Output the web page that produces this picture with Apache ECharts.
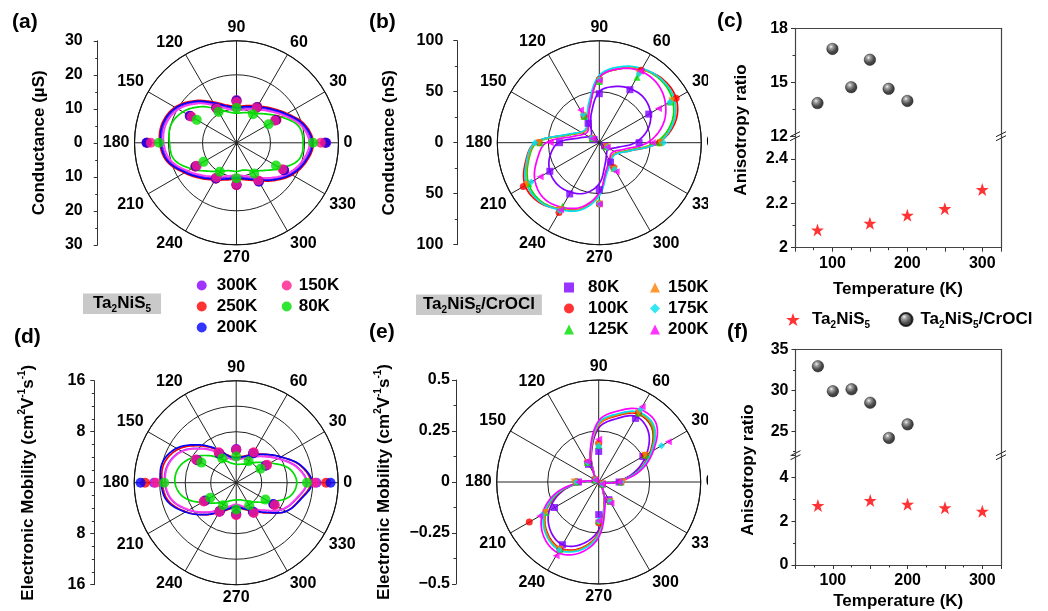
<!DOCTYPE html>
<html>
<head>
<meta charset="utf-8">
<title>Ta2NiS5 anisotropy</title>
<script src="https://cdn.jsdelivr.net/npm/echarts@6.0.0/dist/echarts.min.js"></script>
<style>
  html, body { margin: 0; padding: 0; background: #fff; }
  #chart { width: 1048px; height: 611px; }
</style>
</head>
<body>
<div id="chart"></div>
<script>
// ---------------- data ----------------
// angles (deg) of the measured points and of the sampled fit curves
const ANG_PTS = [0, 30, 60, 90, 120, 150, 180, 210, 240, 270, 300, 330];
const ANG_FIT = [0, 15, 30, 45, 60, 75, 90, 105, 120, 135, 150, 165,
                 180, 195, 210, 225, 240, 255, 270, 285, 300, 315, 330, 345];

// (a) Ta2NiS5, conductance (uS)
const aTemps = ['300K', '250K', '200K', '150K', '80K'];
const aPts300 = [26.4, 13.4, 12.0, 12.6, 12.0, 15.9, 26.5, 13.9, 12.0, 12.5, 13.0, 16.2];
const aPts250 = [26.0, 13.6, 12.2, 12.4, 11.9, 15.7, 26.2, 14.0, 12.2, 12.4, 13.1, 16.0];
const aPts200 = [26.2, 13.3, 12.1, 12.3, 11.8, 15.8, 26.4, 13.8, 12.1, 12.2, 13.2, 16.1];
const aPts150 = [24.8, 13.0, 11.8, 12.0, 11.6, 15.3, 25.2, 13.5, 11.8, 12.1, 12.8, 15.6];
const aPts80 = [22.5, 10.9, 9.7, 10.2, 10.5, 13.5, 22.8, 11.2, 9.8, 10.4, 10.4, 13.4];
const aFit300 = [21.9, 20.1, 16.5, 13.7, 11.8, 10.6, 10.0, 10.8, 13.2, 16.8, 20.2, 21.9,
                 21.9, 20.5, 17.0, 14.1, 11.9, 10.6, 10.0, 10.6, 12.2, 15.0, 18.2, 20.6];
const aFit250 = [22.6, 20.8, 17.2, 14.4, 12.5, 11.3, 10.7, 11.5, 13.9, 17.5, 20.9, 22.6,
                 22.6, 21.2, 17.7, 14.8, 12.6, 11.3, 10.7, 11.3, 12.9, 15.7, 18.9, 21.3];
const aFit200 = [22.3, 20.5, 16.9, 14.1, 12.2, 11.0, 10.4, 11.2, 13.6, 17.2, 20.6, 22.3,
                 22.3, 20.9, 17.4, 14.5, 12.3, 11.0, 10.4, 11.0, 12.6, 15.4, 18.6, 21.0];
const aFit150 = [21.4, 19.6, 16.0, 13.2, 11.3, 10.1, 9.5, 10.3, 12.7, 16.3, 19.7, 21.4,
                 21.4, 20.0, 16.5, 13.6, 11.4, 10.1, 9.5, 10.1, 11.7, 14.5, 17.7, 20.1];
const aFit80 = [19.6, 18.9, 15.2, 12.0, 10.0, 9.2, 8.7, 9.4, 11.5, 15.0, 18.2, 20.0,
                19.7, 19.0, 15.3, 11.8, 9.6, 8.5, 8.4, 8.3, 9.5, 11.5, 15.0, 19.0];

// (b) Ta2NiS5/CrOCl, conductance (nS)
const bTemps = ['80K', '100K', '125K', '150K', '175K', '200K'];
const bPts80 = [39, 56, 60, 48, 22, 6, 39, 56, 58, 46, 22, 6];
const bPts100 = [59, 87, 82, 62, 30, 8, 59, 86, 79, 60, 28, 8];
const bPts125 = [59, 80, 74, 60, 30, 8, 58, 80, 72, 58, 29, 8];
const bPts150 = [60, 82, 78, 61, 31, 8, 59, 82, 76, 60, 30, 8];
const bPts175 = [63, 80, 78, 62, 32, 9, 63, 77, 77, 60, 30, 9];
const bPts200 = [52, 67, 81, 61, 37, 8, 48, 67, 76, 60, 33, 9];
const bFit80 = [35, 49, 58, 62, 61, 57, 50, 30, 16, 11, 12, 19,
                40, 50, 56, 58, 56, 51, 40, 22, 14, 11, 12, 18];
const bFit100 = [58, 77, 87, 88, 83, 75, 64, 37, 23, 18, 20, 31,
                 63, 75, 84, 83, 75, 67, 50, 28, 22, 18, 20, 31];
const bFit125 = [55, 73, 83, 86, 83, 75, 64, 37, 23, 18, 20, 30,
                 61, 72, 80, 81, 75, 67, 50, 28, 22, 18, 20, 29];
const bFit150 = [57, 75, 85, 87, 83, 75, 64, 37, 23, 18, 20, 31,
                 62, 73, 82, 82, 75, 67, 50, 28, 22, 18, 20, 30];
const bFit175 = [58, 75, 85, 87, 84, 77, 66, 40, 24, 19, 21, 32,
                 63, 74, 82, 82, 76, 68, 52, 30, 23, 19, 21, 31];
const bFit200 = [47, 64, 75, 81, 81, 75, 64, 36, 21, 16, 17, 25,
                 52, 63, 73, 77, 73, 65, 49, 27, 20, 16, 17, 25];

// (d) Ta2NiS5, electronic mobility (cm2/Vs)
const dPts300 = [12.6, 5.4, 5.4, 5.3, 5.4, 7.2, 12.9, 5.8, 5.2, 5.0, 5.4, 6.9];
const dPts250 = [14.1, 5.5, 5.4, 5.1, 5.3, 7.0, 14.3, 5.7, 5.1, 5.0, 5.3, 6.8];
const dPts200 = [14.8, 5.3, 5.3, 5.2, 5.2, 7.1, 15.0, 5.6, 5.2, 4.9, 5.2, 6.7];
const dPts150 = [12.3, 5.6, 5.5, 5.2, 5.5, 7.3, 12.6, 5.9, 5.3, 5.1, 5.5, 7.0];
const dPts80 = [11.1, 4.4, 3.9, 4.1, 4.4, 6.3, 11.3, 4.7, 4.1, 4.2, 4.1, 5.3];
const dFit300 = [11.1, 9.8, 7.6, 5.9, 4.7, 4.0, 3.7, 4.0, 5.5, 7.6, 9.9, 11.1,
                 11.2, 10.5, 8.6, 6.6, 4.9, 3.9, 3.5, 3.9, 4.7, 6.2, 8.4, 9.8];
const dFit250 = [11.7, 10.4, 8.1, 6.3, 5.1, 4.3, 4.0, 4.4, 6.0, 8.2, 10.5, 11.7,
                 11.6, 11.0, 9.1, 7.1, 5.4, 4.3, 3.8, 4.3, 5.1, 6.7, 9.0, 10.3];
const dFit200 = [11.9, 10.5, 8.1, 6.3, 5.0, 4.2, 3.9, 4.3, 6.1, 8.4, 10.8, 12.0,
                 11.8, 11.2, 9.2, 7.1, 5.3, 4.2, 3.7, 4.2, 5.0, 6.6, 9.0, 10.4];
const dFit150 = [11.0, 9.7, 7.5, 5.8, 4.6, 3.9, 3.6, 3.9, 5.4, 7.5, 9.8, 11.0,
                 11.1, 10.4, 8.5, 6.5, 4.8, 3.8, 3.4, 3.8, 4.6, 6.1, 8.3, 9.7];
const dFit80 = [9.5, 8.6, 6.2, 4.5, 3.4, 3.0, 2.9, 3.2, 4.2, 6.0, 7.9, 9.3,
                9.6, 8.6, 6.3, 4.5, 3.5, 2.9, 2.7, 2.8, 3.3, 4.3, 6.0, 8.6];

// (e) Ta2NiS5/CrOCl, electronic mobility (cm2/Vs)
const ePts80 = [0.10, 0.25, 0.36, 0.15, 0.10, 0.02, 0.10, 0.25, 0.355, 0.16, 0.10, 0.02];
const ePts100 = [0.11, 0.26, 0.39, 0.19, 0.11, 0.02, 0.11, 0.393, 0.38, 0.20, 0.11, 0.02];
const ePts125 = [0.11, 0.265, 0.39, 0.18, 0.11, 0.02, 0.11, 0.30, 0.38, 0.19, 0.11, 0.02];
const ePts150 = [0.12, 0.262, 0.39, 0.18, 0.11, 0.02, 0.12, 0.30, 0.38, 0.20, 0.11, 0.02];
const ePts175 = [0.11, 0.355, 0.41, 0.176, 0.11, 0.02, 0.11, 0.32, 0.385, 0.19, 0.11, 0.02];
const ePts200 = [0.10, 0.394, 0.426, 0.21, 0.117, 0.02, 0.10, 0.334, 0.418, 0.19, 0.12, 0.02];
const eFit80 = [0.08, 0.18, 0.27, 0.345, 0.37, 0.32, 0.265, 0.14, 0.043, 0.009, 0.005, 0.018,
                0.08, 0.19, 0.28, 0.335, 0.355, 0.315, 0.235, 0.105, 0.035, 0.009, 0.005, 0.018];
const eFit100 = [0.085, 0.195, 0.29, 0.37, 0.385, 0.335, 0.28, 0.15, 0.046, 0.01, 0.005, 0.019,
                 0.085, 0.2, 0.3, 0.355, 0.375, 0.335, 0.25, 0.11, 0.037, 0.01, 0.005, 0.019];
const eFit125 = [0.085, 0.2, 0.295, 0.375, 0.39, 0.34, 0.285, 0.15, 0.047, 0.01, 0.005, 0.019,
                 0.085, 0.205, 0.3, 0.36, 0.38, 0.34, 0.255, 0.112, 0.038, 0.01, 0.005, 0.019];
const eFit150 = [0.09, 0.205, 0.3, 0.38, 0.39, 0.34, 0.28, 0.15, 0.045, 0.01, 0.005, 0.02,
                 0.09, 0.21, 0.305, 0.36, 0.38, 0.34, 0.255, 0.11, 0.038, 0.01, 0.005, 0.02];
const eFit175 = [0.086, 0.2, 0.3, 0.385, 0.395, 0.345, 0.29, 0.155, 0.048, 0.01, 0.005, 0.019,
                 0.086, 0.21, 0.31, 0.365, 0.385, 0.345, 0.26, 0.115, 0.038, 0.01, 0.005, 0.019];
const eFit200 = [0.09, 0.21, 0.31, 0.4, 0.41, 0.36, 0.3, 0.16, 0.05, 0.01, 0.005, 0.02,
                 0.09, 0.22, 0.32, 0.38, 0.4, 0.36, 0.27, 0.12, 0.04, 0.01, 0.005, 0.02];

// (c) conductance anisotropy ratio vs temperature
const cCrTemps = [80, 100, 125, 150, 175, 200];
const cCrRatio = [13.86, 16.86, 14.74, 16.26, 14.65, 13.98];
const cTaTemps = [80, 150, 200, 250, 300];
const cTaRatio = [2.08, 2.11, 2.146, 2.176, 2.262];
// (f) mobility anisotropy ratio vs temperature
const fCrTemps = [80, 100, 125, 150, 175, 200];
const fCrRatio = [32.93, 29.88, 30.12, 28.47, 24.17, 25.83];
const fTaTemps = [80, 150, 200, 250, 300];
const fTaRatio = [2.72, 2.95, 2.78, 2.62, 2.46];

// tick values of the (f) upper segment (it starts at 22, off the 5-grid)
const fUpperTicks = [25, 30, 35];
const fUpperMinor = [22.5, 27.5, 32.5];
const tempLabels = [100, 200, 300];

// ---------------- styles ----------------
const FONT = '"Liberation Sans", Arial, Helvetica, sans-serif';
const BLACK = '#000';
const aColors = ['#8a00ff', '#ff0000', '#0000ff', '#ff1a8c', '#00e000'];
const aFitColors = ['#9a2cff', '#ff0000', '#0000ff', '#ff3cf0', '#00dd00'];
const bColors = ['#8000ff', '#ff0000', '#00dd00', '#ff7f00', '#00e0f0', '#ff00ff'];
const bSymbols = ['rect', 'circle', 'triangle', 'triangle', 'diamond', 'triangle'];
const bRotate = [0, 0, 0, 180, 0, 90];
const STAR = 'path://M50,2 L61.8,36.2 L97.6,36.2 L68.6,57.4 L79.6,91.6 L50,70.4 L20.4,91.6 L31.4,57.4 L2.4,36.2 L38.2,36.2 Z';
const SPHERE = {
  type: 'radial', x: 0.38, y: 0.32, r: 0.75,
  colorStops: [
    { offset: 0, color: '#f2f2f2' },
    { offset: 0.2, color: '#8c8c8c' },
    { offset: 0.6, color: '#1c1c1c' },
    { offset: 1, color: '#000' }
  ]
};
const LABEL = { color: BLACK, fontSize: 16, fontWeight: 'bold', fontFamily: FONT };
const RICH = {
  n: { fontSize: 17, fontWeight: 'bold', fontFamily: FONT, color: BLACK, lineHeight: 22 },
  s: { fontSize: 10, fontWeight: 'bold', fontFamily: FONT, color: BLACK, verticalAlign: 'bottom' },
  p: { fontSize: 10, fontWeight: 'bold', fontFamily: FONT, color: BLACK, verticalAlign: 'top' }
};

// polar panels: centre, radius, side axis x, radial max, ring step, label step, minor split, label margin
const PANELS = [
  { c: [236.5, 142.8], r: 102, ax: 97.7, max: 30, ring: 10, step: 10, minor: 2, margin: 15,
    name: 'Conductance (µS)', gap: 50 },
  { c: [599.3, 142.7], r: 102, ax: 457.3, max: 100, ring: 50, step: 50, minor: 2, margin: 14,
    name: 'Conductance (nS)', gap: 59 },
  { c: [236.2, 482.7], r: 102, ax: 94.3, max: 16, ring: 4, step: 8, minor: 4, margin: 9,
    name: '{n|Electronic Mobility (cm}{p|2}{n|V}{p|-1}{n|s}{p|-1}{n|)}', gap: 55 },
  { c: [598.7, 482.0], r: 102, ax: 456.0, max: 0.5, ring: 0.25, step: 0.25, minor: 2, margin: 6,
    name: '{n|Electronic Mobility (cm}{p|2}{n|V}{p|-1}{n|s}{p|-1}{n|)}', gap: 61, signed: true }
];

const polar = [], angleAxis = [], radiusAxis = [], grid = [], xAxis = [], yAxis = [];

PANELS.forEach((p, i) => {
  polar.push({ center: p.c, radius: p.r });
  angleAxis.push({
    polarIndex: i, type: 'value', min: 0, max: 360, interval: 30,
    startAngle: 0, clockwise: false,
    axisLine: { lineStyle: { color: '#111', width: 1.1 } },
    axisTick: { show: false },
    axisLabel: Object.assign({ margin: 5, formatter: v => (v === 360 ? '' : String(v)) }, LABEL),
    splitLine: { show: true, lineStyle: { color: '#222', width: 1 } }
  });
  radiusAxis.push({
    polarIndex: i, type: 'value', min: 0, max: p.max, interval: p.ring,
    axisLine: { show: false }, axisTick: { show: false }, axisLabel: { show: false },
    splitLine: { show: true, lineStyle: { color: '#222', width: 1 } }
  });
  // the straight value axis on the left of each polar plot
  grid.push({ left: p.ax, top: p.c[1] - p.r, width: 4, height: 2 * p.r,
              containLabel: false, outerBoundsMode: 'none' });
  xAxis.push({ gridIndex: i, type: 'value', show: false });
  yAxis.push({
    gridIndex: i, type: 'value', min: -p.max, max: p.max, interval: p.step,
    axisLine: { show: true, lineStyle: { color: '#333', width: 1 } },
    axisTick: { show: true, length: 4, lineStyle: { color: '#333' } },
    minorTick: { show: true, splitNumber: p.minor, length: 2.5, lineStyle: { color: '#333' } },
    splitLine: { show: false }, minorSplitLine: { show: false },
    axisLabel: Object.assign({
      margin: p.margin,
      formatter: v => p.signed ? (v < 0 ? '\u2212' + Math.abs(v) : String(v)) : String(Math.abs(v))
    }, LABEL),
    name: p.name, nameLocation: 'middle', nameRotate: 90, nameGap: p.gap,
    nameTextStyle: { fontSize: 17, fontWeight: 'bold', fontFamily: FONT, color: BLACK, rich: RICH }
  });
});

// ---- (c) and (f): broken value axes made of two stacked grids ----
const C = { left: 795, width: 206, top: 28.3, brk: 136.7, bottom: 247.7 };
const F = { left: 795.5, width: 205.5, top: 349.3, brk: 455.7, bottom: 565 };
const frameLine = { show: true, lineStyle: { color: '#444', width: 1.2 } };

function tempAxis(gi, bottom, gap) {
  if (!bottom) {
    return { gridIndex: gi, type: 'value', min: 50, max: 325, position: 'top',
             axisLine: frameLine, axisTick: { show: false }, axisLabel: { show: false },
             splitLine: { show: false } };
  }
  return {
    gridIndex: gi, type: 'value', min: 50, max: 325, interval: 50, position: 'bottom',
    axisLine: frameLine,
    axisTick: { show: true, length: 4, lineStyle: { color: '#333' } },
    minorTick: { show: true, splitNumber: 2, length: 2.5, lineStyle: { color: '#333' } },
    splitLine: { show: false }, minorSplitLine: { show: false },
    axisLabel: Object.assign({ margin: 8, formatter: v => (tempLabels.indexOf(v) >= 0 ? String(v) : '') }, LABEL),
    name: 'Temperature (K)', nameLocation: 'middle', nameGap: gap,
    nameTextStyle: { fontSize: 17, fontWeight: 'bold', fontFamily: FONT, color: BLACK }
  };
}
function rightLine(gi, min, max) {
  return { gridIndex: gi, type: 'value', min, max, position: 'right',
           axisLine: frameLine, axisTick: { show: false }, axisLabel: { show: false },
           splitLine: { show: false } };
}
function leftAxis(gi, min, max, interval, fmt, extra) {
  return Object.assign({
    gridIndex: gi, type: 'value', min, max, interval, position: 'left',
    axisLine: frameLine,
    axisTick: { show: true, length: 4, lineStyle: { color: '#333' } },
    minorTick: { show: true, splitNumber: 2, length: 2.5, lineStyle: { color: '#333' } },
    splitLine: { show: false }, minorSplitLine: { show: false },
    axisLabel: Object.assign({ margin: 7, formatter: fmt }, LABEL)
  }, extra || {});
}

// grids 4..7
grid.push({ left: C.left, width: C.width, top: C.top, height: C.brk - C.top, containLabel: false, outerBoundsMode: 'none' });
grid.push({ left: C.left, width: C.width, top: C.brk, height: C.bottom - C.brk, containLabel: false, outerBoundsMode: 'none' });
grid.push({ left: F.left, width: F.width, top: F.top, height: F.brk - F.top, containLabel: false, outerBoundsMode: 'none' });
grid.push({ left: F.left, width: F.width, top: F.brk, height: F.bottom - F.brk, containLabel: false, outerBoundsMode: 'none' });

xAxis.push(tempAxis(4, false));          // 4
xAxis.push(tempAxis(5, true, 33));       // 5
xAxis.push(tempAxis(6, false));          // 6
xAxis.push(tempAxis(7, true, 28));       // 7

yAxis.push(leftAxis(4, 12, 18, 3, v => String(v)));                                       // 4
yAxis.push(rightLine(4, 12, 18));                                                          // 5
yAxis.push(leftAxis(5, 2, 2.5, 0.2, v => (v > 2.45 ? '' : (v === 2 ? '2' : v.toFixed(1))))); // 6
yAxis.push(rightLine(5, 2, 2.5));                                                          // 7
yAxis.push(leftAxis(6, 22, 35, null, v => String(v), {                                     // 8
  interval: undefined,
  axisTick: { show: true, length: 4, customValues: fUpperTicks, lineStyle: { color: '#333' } },
  axisLabel: Object.assign({ margin: 7, customValues: fUpperTicks }, LABEL),
  minorTick: { show: false }
}));
yAxis.push({ gridIndex: 6, type: 'value', min: 22, max: 35, position: 'left',             // 9
  axisLine: { show: false }, axisLabel: { show: false }, splitLine: { show: false },
  axisTick: { show: true, length: 2.5, customValues: fUpperMinor, lineStyle: { color: '#333' } } });
yAxis.push(rightLine(6, 22, 35));                                                          // 10
yAxis.push(leftAxis(7, 0, 5, 2, v => (v > 4.5 ? '' : String(v))));                         // 11
yAxis.push(rightLine(7, 0, 5));                                                            // 12

// ---------------- series ----------------
const series = [];

// closed cubic outline through pixel points (Catmull-Rom style tangents, chord-weighted)
function smoothLoop(P, k, steps) {
  const n = P.length, out = [];
  const d = (a, b) => Math.hypot(b[0] - a[0], b[1] - a[1]) || 1e-6;
  for (let i = 0; i < n; i++) {
    const p0 = P[(i - 1 + n) % n], p1 = P[i], p2 = P[(i + 1) % n], p3 = P[(i + 2) % n];
    const d01 = d(p0, p1), d12 = d(p1, p2), d23 = d(p2, p3);
    const s1 = k * d12 / (d01 + d12), s2 = k * d12 / (d12 + d23);
    const c1 = [p1[0] + (p2[0] - p0[0]) * s1, p1[1] + (p2[1] - p0[1]) * s1];
    const c2 = [p2[0] - (p3[0] - p1[0]) * s2, p2[1] - (p3[1] - p1[1]) * s2];
    for (let s = 0; s < steps; s++) {
      const t = s / steps, u = 1 - t;
      const b0 = u * u * u, b1 = 3 * u * u * t, b2 = 3 * u * t * t, b3 = t * t * t;
      out.push([b0 * p1[0] + b1 * c1[0] + b2 * c2[0] + b3 * p2[0],
                b0 * p1[1] + b1 * c1[1] + b2 * c2[1] + b3 * p2[1]]);
    }
  }
  return out;
}

// fitted curve: the sampled [r, angle] values go through the polar scale (api.coord)
function fitSeries(pi, name, fit, color) {
  const data = fit.map((r, i) => [r, ANG_FIT[i]]);
  return {
    type: 'custom', name, coordinateSystem: 'polar', polarIndex: pi, data, silent: true, z: 2,
    renderItem(params, api) {
      if (params.dataIndex !== 0) return null;
      const pts = data.map(v => api.coord(v));
      return {
        type: 'polygon',
        shape: { points: smoothLoop(pts, 0.36, 12) },
        style: { fill: 'none', stroke: color, lineWidth: 1.7 }
      };
    }
  };
}

function addPolar(pi, tag, temps, ptsList, fitList, colors, fitColors, symbols, rotates, size) {
  temps.forEach((t, k) => {
    series.push(fitSeries(pi, tag + t + ' fit', fitList[k], fitColors[k]));
  });
  temps.forEach((t, k) => {
    series.push({
      type: 'scatter', name: tag + t, coordinateSystem: 'polar', polarIndex: pi,
      data: ptsList[k].map((r, i) => [r, ANG_PTS[i]]),
      symbol: symbols[k], symbolRotate: rotates[k], symbolSize: size,
      itemStyle: { color: colors[k] }, z: 3
    });
  });
}

const circles = aTemps.map(() => 'circle');
const noRot = aTemps.map(() => 0);
addPolar(0, 'a', aTemps, [aPts300, aPts250, aPts200, aPts150, aPts80],
         [aFit300, aFit250, aFit200, aFit150, aFit80], aColors, aFitColors, circles, noRot, 10);
addPolar(1, 'b', bTemps, [bPts80, bPts100, bPts125, bPts150, bPts175, bPts200],
         [bFit80, bFit100, bFit125, bFit150, bFit175, bFit200], bColors, bColors, bSymbols, bRotate, 7);
addPolar(2, 'd', aTemps, [dPts300, dPts250, dPts200, dPts150, dPts80],
         [dFit300, dFit250, dFit200, dFit150, dFit80], aColors, aFitColors, circles, noRot, 10);
addPolar(3, 'e', bTemps, [ePts80, ePts100, ePts125, ePts150, ePts175, ePts200],
         [eFit80, eFit100, eFit125, eFit150, eFit175, eFit200], bColors, bColors, bSymbols, bRotate, 7);

function zip(xs, ys) { return xs.map((x, i) => [x, ys[i]]); }
function ratioSeries(name, xi, yi, xs, ys) {
  const star = name === 'Ta2NiS5';
  return {
    type: 'scatter', name, xAxisIndex: xi, yAxisIndex: yi, data: zip(xs, ys),
    symbol: star ? STAR : 'circle', symbolSize: star ? 13 : 11.5,
    itemStyle: star ? { color: '#ff0000' } : { color: SPHERE, borderColor: '#000', borderWidth: 0.5 },
    z: 5
  };
}
series.push(ratioSeries('Ta2NiS5/CrOCl', 4, 4, cCrTemps, cCrRatio));
series.push(ratioSeries('Ta2NiS5', 5, 6, cTaTemps, cTaRatio));
series.push(ratioSeries('Ta2NiS5/CrOCl', 6, 8, fCrTemps, fCrRatio));
series.push(ratioSeries('Ta2NiS5', 7, 11, fTaTemps, fTaRatio));

// ---------------- legends, labels, decorations ----------------
function tempLegend(names, left, top, pad) {
  return {
    data: names, left, top, orient: 'vertical', padding: 0, itemGap: 4,
    itemWidth: 10, itemHeight: 10, selectedMode: false,
    formatter: n => n.slice(1),
    textStyle: { fontSize: 17, fontWeight: 'bold', fontFamily: FONT, color: BLACK,
                 lineHeight: 17, padding: [0, 0, 0, pad] }
  };
}
const formula = n => (n === 'Ta2NiS5' ? '{n|Ta}{s|2}{n|NiS}{s|5}' : '{n|Ta}{s|2}{n|NiS}{s|5}{n|/CrOCl}');
const legend = [
  tempLegend(['a300K', 'a250K', 'a200K'], 196.7, 277, 5),
  tempLegend(['a150K', 'a80K'], 281.7, 277, 2),
  tempLegend(['b80K', 'b100K', 'b125K'], 564, 279, 9),
  tempLegend(['b150K', 'b175K', 'b200K'], 650, 279, 3),
  { data: ['Ta2NiS5'], left: 786, top: 311, padding: 0, itemWidth: 14, itemHeight: 14,
    selectedMode: false, formatter: formula, textStyle: { rich: RICH, padding: [0, 0, 0, 7] } },
  { data: ['Ta2NiS5/CrOCl'], left: 898.5, top: 311, padding: 0, itemWidth: 13, itemHeight: 13,
    selectedMode: false, formatter: formula, textStyle: { rich: RICH, padding: [0, 0, 0, 3] } }
];

const panelStyle = { fontSize: 21, fontWeight: 'bold', fontFamily: FONT, color: BLACK };
function panelTitle(text, left, top) {
  return { text, left, top, padding: 0, z: 100, textStyle: panelStyle };
}
const title = [
  panelTitle('(a)', 12, 12), panelTitle('(b)', 369, 12), panelTitle('(c)', 717, 11),
  panelTitle('(d)', 14, 327), panelTitle('(e)', 369, 322), panelTitle('(f)', 727, 322),
  { text: formula('Ta2NiS5'), left: 83, top: 291, padding: [1, 10, 0, 10],
    backgroundColor: '#c9c9c9', textStyle: { rich: RICH } },
  { text: formula('Ta2NiS5/CrOCl'), left: 416, top: 292, padding: [1, 7, 0, 7],
    backgroundColor: '#c9c9c9', textStyle: { rich: RICH } }
];

function breakMark(x, y) {
  return {
    type: 'group', x, y, z: 100, children: [
      { type: 'rect', shape: { x: -5, y: -3, width: 10, height: 5 }, style: { fill: '#fff' } },
      { type: 'line', shape: { x1: -5, y1: 0, x2: 5, y2: -5 }, style: { stroke: '#222', lineWidth: 1 } },
      { type: 'line', shape: { x1: -5, y1: 4, x2: 5, y2: -1 }, style: { stroke: '#222', lineWidth: 1 } }
    ]
  };
}
function yTitle(x, y) {
  return {
    type: 'text', x, y, rotation: Math.PI / 2, z: 100,
    style: { text: 'Anisotropy ratio', fill: BLACK, font: 'bold 17px ' + FONT,
             align: 'center', verticalAlign: 'middle', textAlign: 'center', textVerticalAlign: 'middle' }
  };
}
const graphic = [
  // the right-hand panels sit on top of the clipped polar labels of (b) and (e)
  { type: 'rect', left: 708, top: 0, z: 50, shape: { width: 50, height: 611 }, style: { fill: '#fff' } },
  breakMark(C.left, C.brk), breakMark(C.left + C.width, C.brk),
  breakMark(F.left, F.brk), breakMark(F.left + F.width, F.brk),
  yTitle(741.7, 130), yTitle(748, 470)
];

const myChart = echarts.init(document.getElementById('chart'), null, { renderer: 'canvas' });
myChart.setOption({
  animation: false,
  backgroundColor: '#fff',
  textStyle: { fontFamily: FONT },
  title, legend, polar, angleAxis, radiusAxis, grid, xAxis, yAxis, series, graphic
});
window.addEventListener('resize', () => { myChart.resize(); });
</script>
</body>
</html>
